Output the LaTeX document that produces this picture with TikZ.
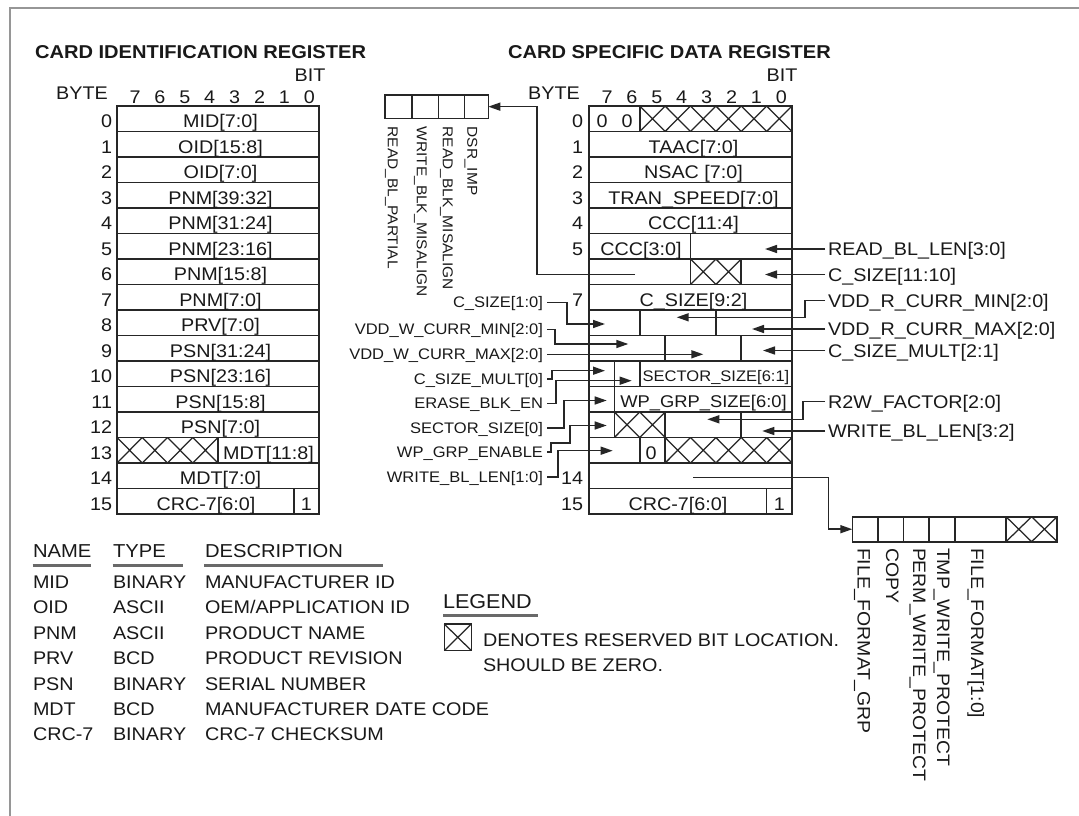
\documentclass[tikz,border=0pt]{standalone}
\usepackage{fontspec}
\setmainfont{Liberation Sans}[FakeStretch=1.08]
\usetikzlibrary{arrows.meta}
\definecolor{ink}{RGB}{25,25,25}
\definecolor{lineink}{RGB}{38,38,38}
\definecolor{framegray}{RGB}{150,150,150}
\definecolor{ulgray}{RGB}{105,105,105}
\newcommand\fsz[1]{\fontsize{#1}{#1}\selectfont}
\newcommand\crossbox[4]{\draw[xcell] (#1,#2) -- (#3,#4) (#1,#4) -- (#3,#2);}
\begin{document}
\begin{tikzpicture}[x=1pt,y=-1pt,
  every node/.style={inner sep=0pt, outer sep=0pt, text=ink},
  tx/.style={font=\fsz{18.3}, text height=13.1pt, text depth=0pt},
  tsm/.style={font=\fsz{15.3}, text height=10.95pt, text depth=0pt},
  twp/.style={font=\fsz{17}, text height=12.2pt, text depth=0pt},
  ttl/.style={font=\fsz{18.6}\bfseries, text height=13.3pt, text depth=0pt, anchor=west},
  thd/.style={font=\fsz{18.7}, text height=13.4pt, text depth=0pt, anchor=west},
  tlg/.style={font=\fsz{20}, text height=14.3pt, text depth=0pt, anchor=west},
  trot/.style={font=\fsz{14.3}, text height=10.24pt, text depth=0pt, rotate=-90, anchor=west},
  trotb/.style={font=\fsz{18}, text height=12.9pt, text depth=0pt, rotate=-90, anchor=west},
  rlab/.style={tx, anchor=west, inner xsep=3pt},
  llab/.style={tsm, anchor=east, inner xsep=4pt},
  regbox/.style={draw=lineink, line width=1.9pt},
  div/.style={draw=lineink, line width=1.6pt},
  xcell/.style={draw=lineink, line width=1.25pt},
  conn/.style={draw=lineink, line width=1.5pt},
  arr/.style={conn, -{Triangle[length=12pt,width=8pt]}},
  ul/.style={draw=ulgray, line width=3pt},
]
\useasboundingbox (0,0) rectangle (1079,816);
\fill[white] (0,0) rectangle (1079,816);
\draw[framegray, line width=2pt] (10,816) -- (10,8) -- (1079,8);

% ---------------- titles ----------------
\node[ttl] (title1) at (35,52) {CARD IDENTIFICATION REGISTER};
\node[ttl] (title2) at (508,52) {CARD SPECIFIC DATA REGISTER};

% ---------------- CID register ----------------
\node[tx] (cidbit) at (310,75) {BIT};
\node[tx] (cidbyte) at (82,93) {BYTE};
\foreach \j in {0,...,7} {
  \pgfmathtruncatemacro\b{7-\j}
  \node[tx] (cidn\j) at ({135+24.9*\j},97) {\b};
}
\draw[regbox] (117,106) rectangle (319,514);
\foreach \k in {1,...,15} \draw[div] (117,{106+25.5*\k}) -- (319,{106+25.5*\k});
\foreach \k in {0,...,15} \node[tx, anchor=east] (cidb\k) at (112,{121.25+25.5*\k}) {\k};
\foreach \k/\t in {0/{MID[7:0]},1/{OID[15:8]},2/{OID[7:0]},3/{PNM[39:32]},4/{PNM[31:24]},
  5/{PNM[23:16]},6/{PNM[15:8]},7/{PNM[7:0]},8/{PRV[7:0]},9/{PSN[31:24]},10/{PSN[23:16]},
  11/{PSN[15:8]},12/{PSN[7:0]},14/{MDT[7:0]}}
  \node[tx] (cidr\k) at (220.5,{121.25+25.5*\k}) {\t};
% row 13
\foreach \i in {0,...,3} {
  \pgfmathsetmacro\xa{117+25.25*\i}\pgfmathsetmacro\xb{\xa+25.25}
  \crossbox{\xa}{437.5}{\xb}{463}
}
\draw[div] (218,437.5) -- (218,463);
\node[tx] (cidr13) at (268.5,452.75) {MDT[11:8]};
% row 15
\draw[div] (293.75,488.5) -- (293.75,514);
\node[tx] (cidr15) at (206,503.75) {CRC-7[6:0]};
\node[tx] (cidr15b) at (306.4,503.75) {1};

% ---------------- CSD register ----------------
\node[tx] (csdbit) at (782,75) {BIT};
\node[tx] (csdbyte) at (554,93) {BYTE};
\foreach \j in {0,...,7} {
  \pgfmathtruncatemacro\b{7-\j}
  \node[tx] (csdn\j) at ({607+24.9*\j},97) {\b};
}
\draw[regbox] (589,106) rectangle (792,514);
\foreach \k in {1,...,15} \draw[div] (589,{106+25.5*\k}) -- (792,{106+25.5*\k});
\foreach \k in {0,1,2,3,4,5,7,14,15} \node[tx, anchor=east] (csdb\k) at (583,{121.25+25.5*\k}) {\k};
\foreach \k/\t in {1/{TAAC[7:0]},2/{NSAC [7:0]},3/{TRAN\_SPEED[7:0]},4/{CCC[11:4]},7/{C\_SIZE[9:2]}}
  \node[tx] (csdr\k) at (693.5,{121.25+25.5*\k}) {\t};
% row 0
\node[tx] (csd0a) at (602,121.25) {0};
\node[tx] (csd0b) at (627,121.25) {0};
\draw[div] (639.75,106) -- (639.75,131.5);
\foreach \i in {2,...,7} {
  \pgfmathsetmacro\xa{589+25.375*\i}\pgfmathsetmacro\xb{\xa+25.375}
  \crossbox{\xa}{106}{\xb}{131.5}
}
% row 5
\draw[div] (690.5,233.5) -- (690.5,259);
\node[tx] (csdr5) at (641,248.75) {CCC[3:0]};
% row 6
\draw[div] (690.5,259) -- (690.5,284.5);
\draw[div] (741.25,259) -- (741.25,284.5);
\crossbox{690.5}{259}{715.875}{284.5}
\crossbox{715.875}{259}{741.25}{284.5}
% row 8
\draw[div] (639.75,310) -- (639.75,335.5);
\draw[div] (715.875,310) -- (715.875,335.5);
% row 9
\draw[div] (665.125,335.5) -- (665.125,361);
\draw[div] (741.25,335.5) -- (741.25,361);
% row 10
\draw[div] (614.375,361) -- (614.375,386.5);
\draw[div] (639.75,361) -- (639.75,386.5);
\node[tsm] (csdr10) at (716,376.25) {SECTOR\_SIZE[6:1]};
% row 11
\draw[div] (614.375,386.5) -- (614.375,412);
\node[twp] (csdr11) at (703.5,401.75) {WP\_GRP\_SIZE[6:0]};
% row 12
\draw[div] (614.375,412) -- (614.375,437.5);
\draw[div] (665.125,412) -- (665.125,437.5);
\draw[div] (741.25,412) -- (741.25,437.5);
\crossbox{614.375}{412}{639.75}{437.5}
\crossbox{639.75}{412}{665.125}{437.5}
% row 13
\draw[div] (639.75,437.5) -- (639.75,463);
\draw[div] (665.125,437.5) -- (665.125,463);
\node[tx] (csdr13) at (651,452.75) {0};
\foreach \i in {3,...,7} {
  \pgfmathsetmacro\xa{589+25.375*\i}\pgfmathsetmacro\xb{\xa+25.375}
  \crossbox{\xa}{437.5}{\xb}{463}
}
% row 15
\draw[div] (766.625,488.5) -- (766.625,514);
\node[tx] (csdr15) at (678,503.75) {CRC-7[6:0]};
\node[tx] (csdr15b) at (779.3,503.75) {1};

% ---------------- top-left bit box ----------------
\node[draw=lineink, line width=1.6pt, minimum width=103.3pt, minimum height=23.3pt] (sbox) at (436.65,106.65) {};
\foreach \x in {411.7,438.3,464.3} \draw[div] (\x,95) -- (\x,118.3);
\node[trot] (tl1) at (393,126.7) {READ\_BL\_PARTIAL};
\node[trot] (tl2) at (422,126.7) {WRITE\_BLK\_MISALIGN};
\node[trot] (tl3) at (448,126.7) {READ\_BLK\_MISALIGN};
\node[trot] (tl4) at (472.5,126.7) {DSR\_IMP};
\coordinate (dA) at (635,274.3);
\coordinate (dK) at (537,274.3);
\draw[arr] (dA) -- (dK) |- (sbox.east);

% ---------------- bottom-right bit box ----------------
\node[draw=lineink, line width=1.6pt, minimum width=204.9pt, minimum height=25pt] (fbox) at (954.75,529.2) {};
\foreach \x in {878,903.6,929.2,954.8,1006} \draw[div] (\x,516.7) -- (\x,541.7);
\crossbox{1006}{516.7}{1031.6}{541.7}
\crossbox{1031.6}{516.7}{1057.2}{541.7}
\node[trotb] (bl1) at (864,548) {FILE\_FORMAT\_GRP};
\node[trotb] (bl2) at (892.5,548) {COPY};
\node[trotb] (bl3) at (919.5,548) {PERM\_WRITE\_PROTECT};
\node[trotb] (bl4) at (943.5,548) {TMP\_WRITE\_PROTECT};
\node[trotb] (bl5) at (977.5,548) {FILE\_FORMAT[1:0]};
\coordinate (fA) at (693.3,477.3);
\coordinate (fK) at (828.3,477.3);
\draw[arr] (fA) -- (fK) |- (fbox.west);

% ---------------- right-side labels ----------------
\node[rlab] (rA) at (825,249) {READ\_BL\_LEN[3:0]};
\node[rlab] (rB) at (825,274.5) {C\_SIZE[11:10]};
\node[rlab] (rC) at (825,300.5) {VDD\_R\_CURR\_MIN[2:0]};
\node[rlab] (rD) at (825,329) {VDD\_R\_CURR\_MAX[2:0]};
\node[rlab] (rE) at (825,350.5) {C\_SIZE\_MULT[2:1]};
\node[rlab] (rF) at (825,401.5) {R2W\_FACTOR[2:0]};
\node[rlab] (rG) at (825,431) {WRITE\_BL\_LEN[3:2]};
\coordinate (tA) at (765,249);
\coordinate (tB) at (765,274.5);
\coordinate (kC) at (805,317.3);
\coordinate (tC) at (676.7,317.3);
\coordinate (tD) at (752,329);
\coordinate (tE) at (763,350.5);
\coordinate (kF) at (803,419.3);
\coordinate (tF) at (707.3,419.3);
\coordinate (tG) at (762.3,431);
\draw[arr] (rA.west) -- (tA);
\draw[arr] (rB.west) -- (tB);
\draw[arr] (rC.west) -| (kC) -- (tC);
\draw[arr] (rD.west) -- (tD);
\draw[arr] (rE.west) -- (tE);
\draw[arr] (rF.west) -| (kF) -- (tF);
\draw[arr] (rG.west) -- (tG);

% ---------------- left-side labels ----------------
\node[llab] (lA) at (547,302.5) {C\_SIZE[1:0]};
\node[llab] (lB) at (547,329.5) {VDD\_W\_CURR\_MIN[2:0]};
\node[llab] (lC) at (547,354.3) {VDD\_W\_CURR\_MAX[2:0]};
\node[llab] (lD) at (547,379) {C\_SIZE\_MULT[0]};
\node[llab] (lE) at (547,403.5) {ERASE\_BLK\_EN};
\node[llab] (lF) at (547,428) {SECTOR\_SIZE[0]};
\node[llab] (lG) at (547,452) {WP\_GRP\_ENABLE};
\node[llab] (lH) at (547,477) {WRITE\_BL\_LEN[1:0]};
\coordinate (sA) at (605,324);
\coordinate (sB) at (628.3,344);
\coordinate (sC) at (703.3,354.3);
\coordinate (sD) at (605,370.7);
\coordinate (sE) at (631.7,380.7);
\coordinate (sF) at (606.7,400.5);
\coordinate (kG) at (570,443);
\coordinate (sG) at (606.7,425.5);
\coordinate (sH) at (612.7,450.7);
\draw[arr] (lA.east) -- ++(20,0) |- (sA);
\draw[arr] (lB.east) -- ++(8,0) |- (sB);
\draw[arr] (lC.east) -- (sC);
\draw[arr] (lD.east) -- ++(5,0) |- (sD);
\draw[arr] (lE.east) -- ++(9,0) |- (sE);
\draw[arr] (lF.east) -- ++(17,0) |- (sF);
\draw[arr] (lG.east) -- ++(4,0) |- (kG) |- (sG);
\draw[arr] (lH.east) -- ++(11,0) |- (sH);

% ---------------- CID field table ----------------
\node[thd] (hName) at (33,551) {NAME};
\node[thd] (hType) at (113,551) {TYPE};
\node[thd] (hDesc) at (205,551) {DESCRIPTION};
\draw[ul] (32.7,565) -- (91,565);
\draw[ul] (112.7,565) -- (183.3,565);
\draw[ul] (204,565) -- (383,565);
\node[tx, anchor=west] (n1) at (33,582) {MID};
\node[tx, anchor=west] (y1) at (113,582) {BINARY};
\node[tx, anchor=west] (d1) at (205,582) {MANUFACTURER ID};
\node[tx, anchor=west] (n2) at (33,607.4) {OID};
\node[tx, anchor=west] (y2) at (113,607.4) {ASCII};
\node[tx, anchor=west] (d2) at (205,607.4) {OEM/APPLICATION ID};
\node[tx, anchor=west] (n3) at (33,632.8) {PNM};
\node[tx, anchor=west] (y3) at (113,632.8) {ASCII};
\node[tx, anchor=west] (d3) at (205,632.8) {PRODUCT NAME};
\node[tx, anchor=west] (n4) at (33,658.2) {PRV};
\node[tx, anchor=west] (y4) at (113,658.2) {BCD};
\node[tx, anchor=west] (d4) at (205,658.2) {PRODUCT REVISION};
\node[tx, anchor=west] (n5) at (33,683.6) {PSN};
\node[tx, anchor=west] (y5) at (113,683.6) {BINARY};
\node[tx, anchor=west] (d5) at (205,683.6) {SERIAL NUMBER};
\node[tx, anchor=west] (n6) at (33,709) {MDT};
\node[tx, anchor=west] (y6) at (113,709) {BCD};
\node[tx, anchor=west] (d6) at (205,709) {MANUFACTURER DATE CODE};
\node[tx, anchor=west] (n7) at (33,734.4) {CRC-7};
\node[tx, anchor=west] (y7) at (113,734.4) {BINARY};
\node[tx, anchor=west] (d7) at (205,734.4) {CRC-7 CHECKSUM};

% ---------------- legend ----------------
\node[tlg] (lgd) at (443,601.7) {LEGEND};
\draw[ul] (443,615) -- (538,615);
\node[draw=lineink, line width=1.6pt, minimum width=27pt, minimum height=26.5pt] (lgbox) at (457.8,637.3) {};
\draw[xcell] (lgbox.north west) -- (lgbox.south east) (lgbox.south west) -- (lgbox.north east);
\node[tx, anchor=west] (lgt1) at (483,640) {DENOTES RESERVED BIT LOCATION.};
\node[tx, anchor=west] (lgt2) at (483,665) {SHOULD BE ZERO.};
\end{tikzpicture}
\end{document}
